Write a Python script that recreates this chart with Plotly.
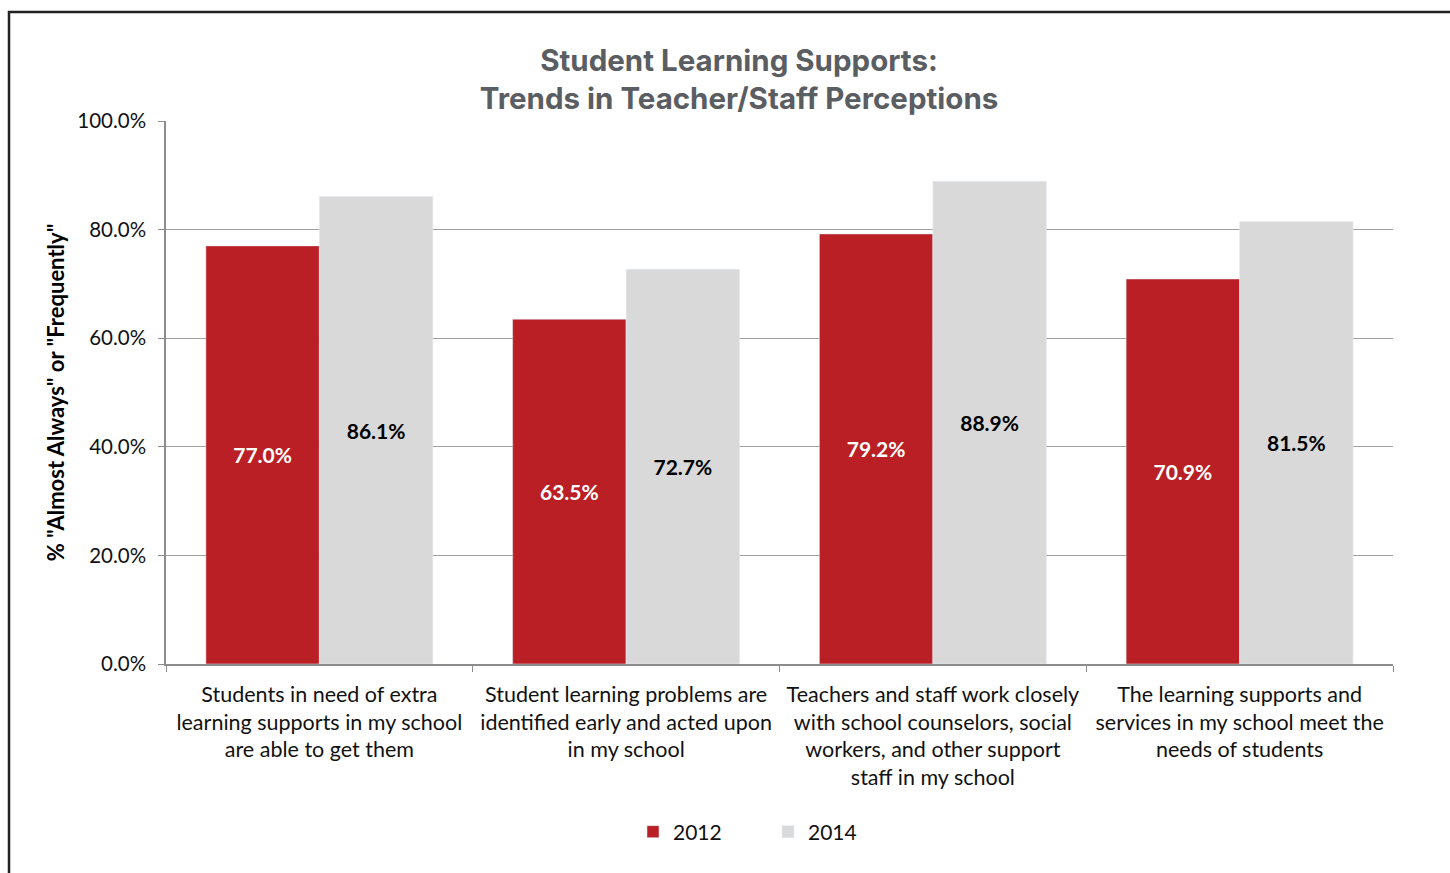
import plotly.graph_objects as go

categories = [
    "Students in need of extra<br>learning supports in my school<br>are able to get them",
    "Student learning problems are<br>identified early and acted upon<br>in my school",
    "Teachers and staff work closely<br>with school counselors, social<br>workers, and other support<br>staff in my school",
    "The learning supports and<br>services in my school meet the<br>needs of students",
]
values_2012 = [77.0, 63.5, 79.2, 70.9]
values_2014 = [86.1, 72.7, 88.9, 81.5]
y_ticks = [0, 20, 40, 60, 80, 100]

W, H = 1450, 873
L, R, T, B = 166, 57, 121, 209
PW, PH = W - L - R, H - T - B

def px_x(x):
    return (x - L) / PW

def px_y(y):
    return (H - B - y) / PH

FONT = "Lato, 'Open Sans', sans-serif"
TITLE_FONT = "Inter, 'Open Sans', sans-serif"
RED = "#BA1F25"
GRAY = "#D9D9D9"

fig = go.Figure()
fig.add_trace(go.Bar(
    name="2012", x=categories, y=values_2012, marker_color=RED,
    text=[f"{v:.1f}%" for v in values_2012], textposition="inside",
    insidetextanchor="middle",
    textfont=dict(family=FONT, size=21, color="white", weight="bold"),
))
fig.add_trace(go.Bar(
    name="2014", x=categories, y=values_2014, marker_color=GRAY,
    text=[f"{v:.1f}%" for v in values_2014], textposition="inside",
    insidetextanchor="middle",
    textfont=dict(family=FONT, size=21, color="black", weight="bold"),
))

fig.update_layout(
    width=W, height=H,
    margin=dict(l=L, r=R, t=T, b=B),
    paper_bgcolor="white", plot_bgcolor="white",
    barmode="group", bargap=0.26, bargroupgap=0,
    font=dict(family=FONT, size=21, color="#111"),
    title=dict(
        text="Student Learning Supports:<br>Trends in Teacher/Staff Perceptions",
        x=739 / W, xref="container", xanchor="center",
        y=1 - 71 / H, yref="container", yanchor="middle",
        font=dict(family=TITLE_FONT, size=29.5, color="#5A5D62", weight="bold"),
    ),
    legend=dict(
        orientation="h", x=px_x(633), xanchor="left",
        y=px_y(832), yanchor="middle",
        font=dict(family=FONT, size=21, color="#111"),
        entrywidth=90, traceorder="normal",
    ),
    showlegend=True,
)

fig.update_xaxes(
    showline=True, linecolor="#8C8C8C", linewidth=1.5,
    ticks="outside", tickson="boundaries", ticklen=6, tickcolor="#8C8C8C",
    ticklabelstandoff=10,
    tickfont=dict(family=FONT, size=21.5, color="#111"),
)
fig.update_yaxes(
    range=[0, 100], tickvals=y_ticks,
    ticktext=[f"{v:.1f}%" for v in y_ticks],
    showgrid=True, gridcolor="#A0A0A0", gridwidth=1.2,
    showline=True, linecolor="#8C8C8C", linewidth=1.5,
    ticks="outside", ticklen=6, tickcolor="#8C8C8C",
    ticklabelstandoff=8,
    tickfont=dict(family=FONT, size=20.5, color="#111"),
    title=dict(text='% "Almost Always" or "Frequently"', standoff=7,
               font=dict(family=FONT, size=22, color="black", weight="bold")),
    zeroline=False,
)

# frame around the chart
fig.add_shape(type="rect", xref="paper", yref="paper",
              x0=px_x(9), x1=px_x(1480), y0=px_y(12), y1=px_y(900),
              line=dict(color="#222", width=2.5), layer="above")

fig.write_html("out.html")
